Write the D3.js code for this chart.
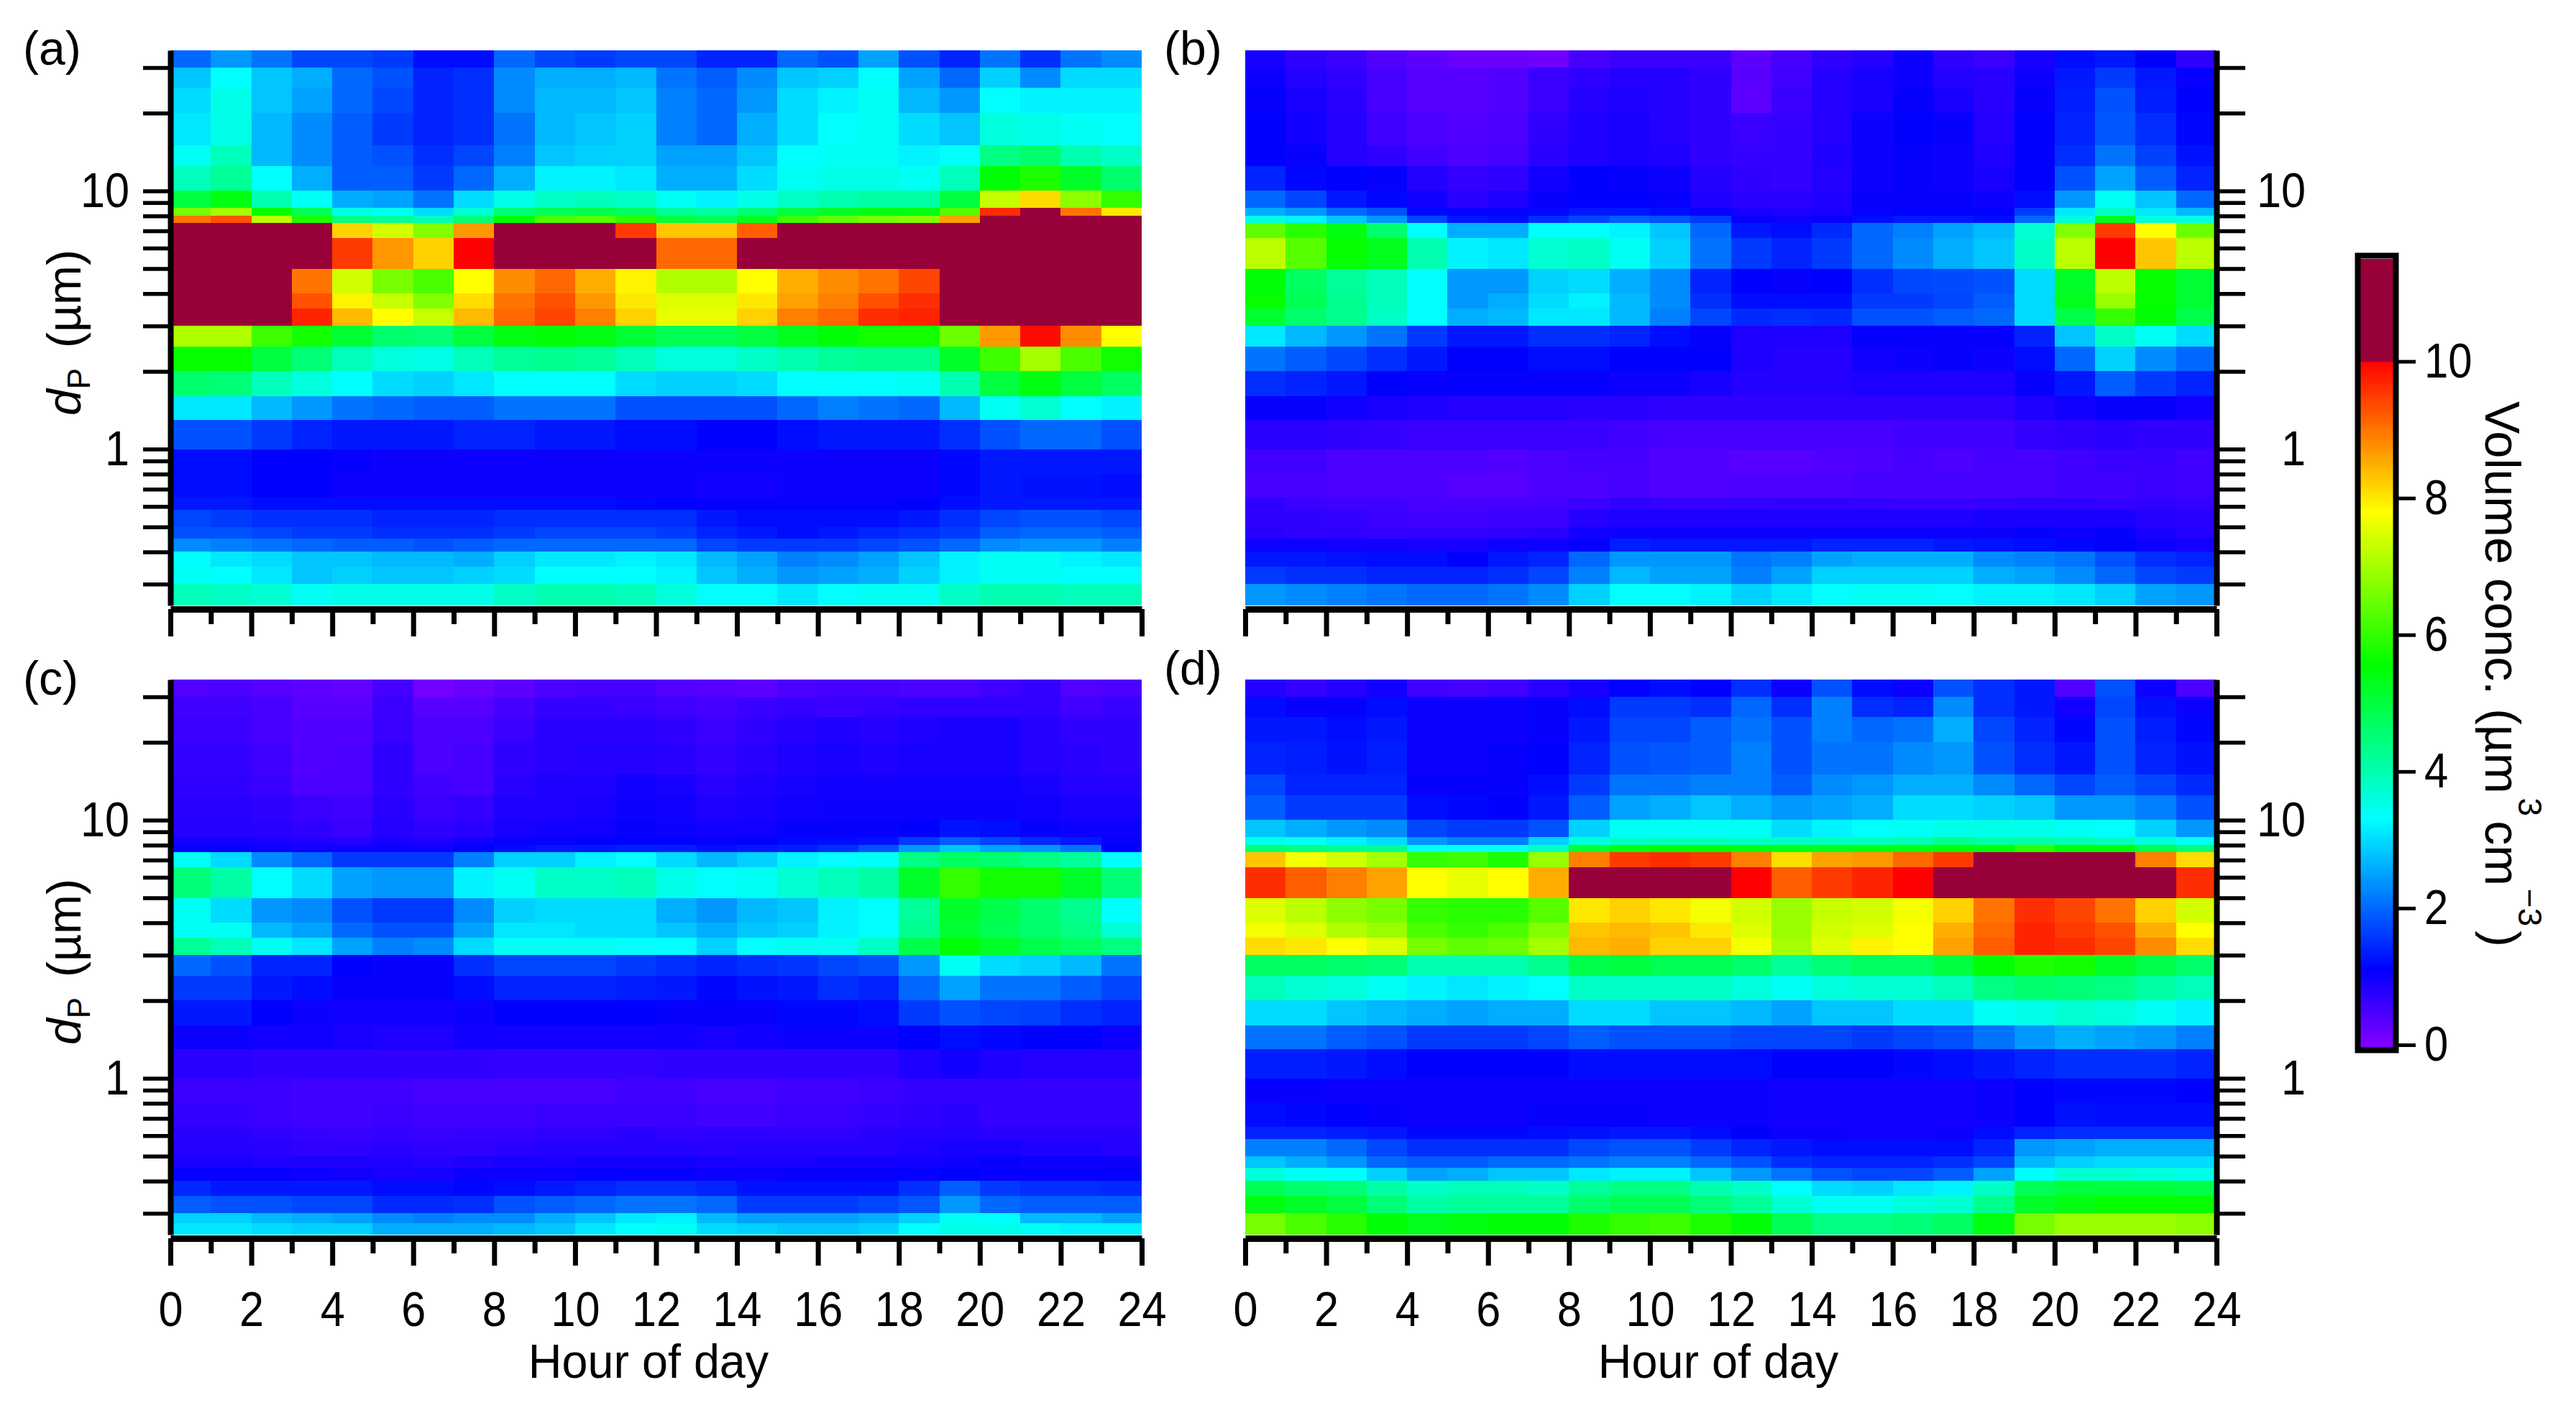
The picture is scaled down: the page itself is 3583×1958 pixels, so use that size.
<!DOCTYPE html>
<html>
<head>
<meta charset="utf-8">
<script src="https://cdn.jsdelivr.net/npm/d3@7"></script>
<style>
    html, body { margin: 0; padding: 0; background: #fff; }
    text { font-family: "Liberation Sans", Arial, sans-serif; fill: #000; }
</style>
</head>
<body>
<script>
// particle size bin edges (um), top to bottom
var sizeEdges = [35, 30, 25, 20, 15, 12.5, 10, 8.6, 8, 7.5, 6.55, 5, 4, 3.5, 3, 2.5, 2, 1.6, 1.3, 1, 0.8, 0.65, 0.58, 0.5, 0.45, 0.4, 0.35, 0.3, 0.248];
// panel c shows one more split near the bottom
var sizeEdgesC = [35, 30, 25, 20, 15, 12.5, 10, 8.6, 8, 7.5, 6.55, 5, 4, 3.5, 3, 2.5, 2, 1.6, 1.3, 1, 0.8, 0.65, 0.58, 0.5, 0.45, 0.4, 0.35, 0.3, 0.275, 0.248];

var hourTicks = [0, 2, 4, 6, 8, 10, 12, 14, 16, 18, 20, 22, 24];
var hourMinorTicks = [1, 3, 5, 7, 9, 11, 13, 15, 17, 19, 21, 23];
var sizeTicks = [0.3, 0.4, 0.5, 0.6, 0.7, 0.8, 0.9, 1, 2, 3, 4, 5, 6, 7, 8, 9, 10, 20, 30];
var sizeLabels = [1, 10];
var barTicks = [0, 2, 4, 6, 8, 10];

// rainbow colour stops
var colorStops = [0, 1.1, 3.3, 5.55, 7.8, 10];
var colorValues = ["#8000ff", "#0000ff", "#00ffff", "#00ff00", "#ffff00", "#ff0000"];
var overColor = "#98003a";

var panelA = [
    [2.0,2.4,2.1,1.7,1.7,1.6,1.2,1.2,2.0,1.7,1.6,1.7,1.7,1.4,1.4,2.0,1.8,2.5,1.8,1.4,2.1,1.5,2.1,2.3],
    [2.8,3.3,2.8,2.6,2.0,1.8,1.4,1.5,2.3,2.6,2.6,2.7,2.1,1.9,2.3,2.8,2.9,3.3,2.5,2.0,2.9,2.3,3.0,3.0],
    [3.0,3.5,2.8,2.5,2.0,1.7,1.4,1.5,2.3,2.7,2.7,2.8,2.2,2.0,2.4,3.0,3.2,3.4,2.7,2.4,3.3,3.2,3.2,3.2],
    [3.1,3.5,2.7,2.3,1.9,1.6,1.4,1.5,2.1,2.7,2.8,2.9,2.2,2.0,2.6,3.0,3.3,3.4,3.0,2.8,3.6,3.5,3.4,3.3],
    [3.4,3.9,2.7,2.3,1.9,1.8,1.5,1.7,2.2,2.8,2.9,2.9,2.5,2.5,2.8,3.3,3.4,3.4,3.2,3.3,4.4,4.6,4.0,3.8],
    [3.9,4.2,3.3,2.6,1.9,1.9,1.6,2.0,2.6,3.2,3.2,3.1,2.6,2.6,3.0,3.4,3.5,3.5,3.4,3.9,5.5,5.8,5.2,4.6],
    [5.0,5.4,4.0,3.4,2.6,2.5,2.1,3.0,3.5,3.8,3.9,3.8,3.4,3.2,3.5,3.8,4.0,4.1,4.1,5.0,7.3,8.1,6.8,6.0],
    [6.6,7.0,5.6,4.8,3.5,3.4,3.0,3.7,4.5,4.8,4.9,4.7,4.2,4.1,4.5,5.0,5.2,5.4,5.4,6.3,9.6,11,9.0,8.0],
    [9.0,9.3,7.2,5.8,4.4,4.2,3.9,4.5,5.5,6.2,6.3,5.9,5.0,4.8,5.3,6.1,6.4,6.6,6.7,8.6,11,11,11,11],
    [11,11,11,11,8.2,7.4,6.7,8.7,11,11,11,9.5,8.3,8.3,9.2,11,11,11,11,11,11,11,11,11],
    [11,11,11,11,9.5,8.7,8.2,10,11,11,11,11,9.1,9.1,11,11,11,11,11,11,11,11,11,11],
    [11,11,11,9.0,7.4,6.6,6.2,7.8,8.8,9.1,8.5,7.9,7.1,7.1,7.8,8.5,8.8,9.0,9.4,11,11,11,11,11],
    [11,11,11,9.3,7.9,7.3,6.7,8.1,9.0,9.3,8.7,8.0,7.5,7.5,8.0,8.6,8.9,9.3,9.6,11,11,11,11,11],
    [11,11,11,9.7,8.4,7.8,7.3,8.4,9.1,9.4,8.9,8.2,7.6,7.6,8.2,8.9,9.1,9.6,9.7,11,11,11,11,11],
    [7.1,7.1,6.1,5.7,5.1,4.6,4.5,5.0,5.4,5.5,5.4,5.1,4.8,4.8,5.0,5.3,5.5,5.7,5.7,6.5,8.7,9.9,8.8,7.8],
    [5.6,5.6,5.0,4.5,3.9,3.6,3.5,3.9,4.2,4.3,4.2,3.9,3.6,3.6,3.8,4.0,4.2,4.3,4.3,5.2,6.1,7.0,6.2,5.7],
    [4.6,4.5,3.9,3.6,3.3,3.0,2.9,3.1,3.3,3.3,3.3,3.0,2.9,2.9,3.0,3.3,3.3,3.3,3.4,4.0,5.0,5.4,5.0,4.7],
    [3.1,3.1,2.7,2.4,2.1,2.0,1.9,1.9,2.1,2.1,2.1,1.8,1.8,1.8,1.8,2.0,2.2,2.1,2.0,2.7,3.4,3.7,3.3,3.2],
    [1.8,1.8,1.6,1.4,1.3,1.3,1.3,1.4,1.4,1.3,1.3,1.2,1.2,1.1,1.1,1.2,1.3,1.3,1.3,1.5,1.8,2.0,2.0,1.8],
    [1.2,1.2,1.1,1.1,1.05,1,1,1,1,1,1,1,1,1,1,1,1,1,1,1.15,1.3,1.3,1.3,1.3],
    [1.2,1.2,1.1,1.1,1,1,1,1,1,1,1,1,1,0.95,0.95,1,1,1,1,1.15,1.3,1.25,1.25,1.2],
    [1.3,1.3,1.2,1.2,1.2,1.2,1.2,1.2,1.2,1.2,1.2,1.15,1.1,1.05,1.05,1.05,1.05,1.05,1.1,1.2,1.3,1.3,1.3,1.3],
    [1.7,1.6,1.5,1.5,1.5,1.4,1.4,1.4,1.5,1.5,1.5,1.5,1.5,1.3,1.2,1.2,1.2,1.2,1.3,1.5,1.7,1.8,1.8,1.7],
    [1.8,1.8,1.7,1.6,1.6,1.5,1.5,1.5,1.6,1.7,1.7,1.7,1.6,1.4,1.3,1.2,1.3,1.4,1.5,1.6,1.9,2.0,2.0,1.9],
    [2.3,2.2,2.1,2.0,1.9,1.9,1.8,1.9,2.0,2.0,2.0,2.0,2.0,1.7,1.6,1.6,1.6,1.7,1.8,2.0,2.3,2.4,2.4,2.2],
    [3.3,3.1,3.0,2.8,2.8,2.7,2.7,2.6,2.9,3.1,3.1,3.2,3.1,2.7,2.5,2.2,2.3,2.5,2.8,3.2,3.4,3.4,3.2,3.1],
    [3.4,3.3,3.1,2.8,2.9,2.8,2.8,2.9,3.0,3.3,3.3,3.3,3.2,2.8,2.6,2.4,2.5,2.6,2.9,3.2,3.4,3.4,3.3,3.3],
    [3.9,3.8,3.7,3.4,3.5,3.5,3.5,3.5,3.8,4.0,4.0,3.9,3.6,3.3,3.3,3.1,3.3,3.4,3.4,3.8,4.0,4.0,3.9,3.9]
];

var panelB = [
    [0.9,0.7,0.6,0.4,0.3,0.2,0.2,0.15,0.5,0.6,0.6,0.6,0.3,0.5,0.7,0.8,1.0,0.7,0.6,0.9,1.2,1.3,1.1,0.7],
    [1.0,0.8,0.7,0.5,0.35,0.35,0.4,0.6,0.7,0.8,0.8,0.7,0.35,0.55,0.8,0.9,1.0,0.8,0.75,1.0,1.3,1.6,1.3,1.05],
    [1.05,0.9,0.75,0.5,0.35,0.35,0.4,0.6,0.8,0.85,0.8,0.7,0.3,0.6,0.8,0.9,1.05,0.9,0.75,1.05,1.35,1.8,1.35,1.1],
    [1.1,0.95,0.8,0.55,0.45,0.4,0.45,0.7,0.85,0.9,0.8,0.7,0.6,0.65,0.8,1.0,1.1,1.05,0.8,1.1,1.4,1.85,1.5,1.15],
    [1.1,1.05,0.8,0.7,0.55,0.45,0.5,0.75,0.85,0.9,0.85,0.7,0.65,0.65,0.85,1.0,1.05,1.0,0.85,1.1,1.5,2.1,1.65,1.25],
    [1.4,1.15,1.1,1.05,0.8,0.65,0.7,0.95,1.1,1.05,1.0,0.8,0.7,0.65,0.8,1.0,1.05,1.0,0.9,1.1,1.8,2.5,1.9,1.4],
    [2.0,1.7,1.3,1.15,0.95,0.75,0.85,1.05,1.1,1.1,1.05,0.85,0.75,0.75,0.85,1.05,1.05,1.05,1.0,1.2,2.4,3.4,2.8,2.0],
    [2.6,2.4,2.0,1.8,1.15,1.05,1.05,1.15,1.3,1.3,1.2,1.05,0.9,0.85,0.9,1.05,1.1,1.1,1.1,1.6,3.1,3.8,3.1,2.7],
    [3.5,3.2,2.8,2.4,1.7,1.3,1.2,1.5,1.7,1.9,1.8,1.6,1.05,1.0,1.05,1.2,1.3,1.3,1.2,2.0,3.6,5.3,3.6,3.5],
    [6.4,5.9,5.4,4.6,3.3,2.6,2.6,3.3,3.3,3.2,2.8,2.0,1.3,1.2,1.45,2.0,2.2,2.5,2.7,3.7,6.7,9.5,7.8,6.5],
    [7.2,6.3,5.6,5.3,4.0,3.2,3.1,3.7,3.8,3.4,2.9,2.1,1.6,1.4,1.6,2.0,2.3,2.6,2.8,3.8,7.2,10,8.3,7.2],
    [5.5,4.7,4.2,3.9,3.3,2.4,2.4,2.9,3.0,2.6,2.3,1.4,1.1,1.05,1.1,1.5,1.7,1.75,1.8,3.0,5.2,7.2,5.6,5.1],
    [5.6,4.8,4.3,3.9,3.3,2.4,2.6,3.0,3.2,2.7,2.3,1.5,1.2,1.2,1.2,1.6,1.6,1.7,1.9,3.0,5.3,6.9,5.6,5.1],
    [5.1,4.6,4.3,3.8,3.3,2.6,2.7,3.1,3.1,2.7,2.2,1.7,1.45,1.5,1.45,1.8,1.8,1.9,2.0,3.0,4.9,6.0,5.5,4.9],
    [3.1,2.7,2.4,2.1,1.6,1.3,1.3,1.5,1.5,1.4,1.2,1.05,0.85,0.85,0.85,1.05,1.05,1.05,1.05,1.4,2.8,3.8,3.4,3.0],
    [2.1,1.9,1.7,1.5,1.3,1.1,1.1,1.2,1.2,1.1,1.1,1.1,0.85,0.8,0.8,0.95,1.0,1.05,1.0,1.2,2.0,2.9,2.3,2.0],
    [1.5,1.4,1.3,1.1,1.05,1.05,1.05,1.05,1.05,1.0,1.0,0.9,0.8,0.8,0.8,0.85,0.85,0.85,0.85,1.05,1.3,1.9,1.6,1.4],
    [1.05,1.05,0.95,0.9,0.85,0.8,0.8,0.8,0.75,0.75,0.7,0.7,0.7,0.7,0.7,0.7,0.7,0.7,0.7,0.85,0.95,1.05,1.05,0.95],
    [0.75,0.75,0.7,0.65,0.6,0.6,0.6,0.6,0.6,0.55,0.5,0.5,0.5,0.5,0.5,0.5,0.55,0.55,0.55,0.65,0.7,0.75,0.7,0.7],
    [0.55,0.55,0.45,0.45,0.45,0.45,0.4,0.45,0.5,0.5,0.4,0.4,0.35,0.35,0.4,0.45,0.5,0.45,0.5,0.5,0.55,0.6,0.6,0.55],
    [0.5,0.5,0.45,0.45,0.45,0.35,0.35,0.45,0.45,0.5,0.4,0.4,0.45,0.45,0.45,0.5,0.5,0.5,0.5,0.5,0.55,0.55,0.6,0.55],
    [0.7,0.6,0.55,0.55,0.5,0.5,0.5,0.5,0.6,0.7,0.65,0.65,0.65,0.7,0.7,0.65,0.6,0.6,0.65,0.7,0.7,0.65,0.7,0.65],
    [0.7,0.7,0.65,0.6,0.55,0.55,0.6,0.6,0.8,0.85,0.85,0.85,0.85,0.85,0.85,0.85,0.85,0.85,0.9,0.9,0.9,0.9,0.8,0.75],
    [0.75,0.7,0.7,0.65,0.65,0.65,0.7,0.75,0.95,1.0,1.0,1.0,1.0,1.0,1.0,1.0,1.0,1.0,1.0,1.05,1.0,1.05,0.9,0.8],
    [1.0,1.0,0.95,0.95,0.9,0.9,1.0,1.0,1.05,1.35,1.3,1.3,1.3,1.3,1.4,1.4,1.4,1.3,1.25,1.2,1.15,1.1,1.0,0.95],
    [1.3,1.3,1.25,1.2,1.2,1.1,1.3,1.4,2.0,2.4,2.4,2.4,2.1,2.2,2.5,2.6,2.6,2.6,2.3,2.2,2.1,1.8,1.5,1.4],
    [1.6,1.5,1.5,1.4,1.4,1.4,1.5,1.7,2.2,2.7,2.5,2.5,2.2,2.5,2.9,2.9,2.9,2.9,2.6,2.5,2.3,2.0,1.7,1.6],
    [2.4,2.3,2.2,2.1,2.0,2.0,2.1,2.3,2.9,3.3,3.3,3.2,2.9,3.1,3.3,3.4,3.4,3.3,3.2,3.2,3.1,2.9,2.5,2.4]
];

var panelC = [
    [0.4,0.45,0.35,0.3,0.25,0.5,0.1,0.2,0.3,0.45,0.5,0.5,0.4,0.35,0.3,0.45,0.5,0.5,0.45,0.45,0.55,0.65,0.4,0.45],
    [0.55,0.55,0.5,0.35,0.35,0.6,0.35,0.35,0.5,0.65,0.65,0.6,0.55,0.5,0.6,0.65,0.6,0.65,0.7,0.7,0.7,0.7,0.55,0.6],
    [0.6,0.6,0.5,0.4,0.4,0.6,0.45,0.45,0.6,0.75,0.75,0.75,0.7,0.6,0.7,0.8,0.85,0.8,0.85,0.9,0.9,0.8,0.7,0.7],
    [0.65,0.65,0.55,0.4,0.45,0.7,0.45,0.5,0.7,0.75,0.8,0.8,0.75,0.65,0.75,0.85,0.9,0.85,0.9,0.9,0.9,0.8,0.75,0.7],
    [0.7,0.7,0.6,0.45,0.45,0.7,0.55,0.5,0.75,0.85,0.85,0.95,0.9,0.75,0.85,0.9,0.95,0.95,0.95,0.95,0.95,0.9,0.8,0.8],
    [0.75,0.75,0.7,0.6,0.55,0.75,0.6,0.65,0.85,0.85,0.9,1.0,0.95,0.85,0.9,0.95,1.0,1.0,1.0,1.0,1.0,0.95,0.9,0.9],
    [0.8,0.8,0.75,0.7,0.6,0.8,0.7,0.75,0.9,0.95,0.95,1.05,1.0,0.95,0.95,1.05,1.05,1.05,1.1,1.25,1.2,1.05,1.0,1.0],
    [0.95,0.95,0.9,0.85,0.8,0.9,0.85,0.95,1.05,1.05,1.1,1.1,1.1,1.05,1.1,1.15,1.2,1.25,1.6,1.9,1.7,1.45,1.3,1.05],
    [1.05,1.05,1.05,1,1,1,1,1.1,1.2,1.3,1.3,1.35,1.35,1.25,1.3,1.35,1.5,1.8,2.4,2.8,2.5,2.4,2.1,1.1],
    [3.4,3.0,2.3,2.0,1.6,1.6,1.6,2.2,2.9,2.9,3.2,3.3,3.0,2.7,2.9,3.2,3.3,3.4,4.4,4.7,4.6,4.4,4.2,3.3],
    [4.5,4.1,3.3,3.0,2.5,2.4,2.4,3.2,3.4,3.8,3.8,3.9,3.5,3.3,3.4,3.7,3.9,4.1,5.2,6.0,5.7,5.7,5.2,4.5],
    [3.4,3.0,2.4,2.3,1.8,1.6,1.6,2.3,2.9,3.0,3.0,3.0,2.6,2.4,2.7,2.8,3.2,3.3,4.2,5.2,4.9,4.6,4.3,3.3],
    [3.4,3.4,2.7,2.5,2.0,1.8,1.8,2.5,3.1,3.1,3.0,3.0,2.8,2.6,2.8,2.9,3.2,3.3,4.3,5.1,4.8,4.6,4.4,3.7],
    [4.2,3.9,3.4,3.1,2.5,2.2,2.3,3.0,3.4,3.4,3.4,3.3,3.3,2.9,3.3,3.4,3.4,3.8,4.9,5.5,5.2,4.9,4.7,4.4],
    [2.0,1.8,1.4,1.4,1.1,1.05,1.05,1.5,1.7,1.7,1.7,1.6,1.5,1.4,1.5,1.55,1.7,1.8,2.4,3.4,3.0,2.9,2.7,2.1],
    [1.6,1.6,1.3,1.2,1.05,1.05,1.05,1.2,1.4,1.4,1.4,1.35,1.3,1.15,1.25,1.3,1.5,1.4,2.0,2.5,2.1,2.1,1.9,1.7],
    [1.3,1.3,1.1,1,0.95,0.95,0.95,1,1.1,1.1,1.1,1.1,1.05,1.05,1.05,1.15,1.15,1.2,1.6,1.8,1.7,1.65,1.5,1.4],
    [1.0,1.0,0.95,0.95,0.9,0.85,0.85,0.95,0.95,0.95,0.95,0.95,0.95,0.9,0.95,1,1,1,1.1,1.2,1.15,1.1,1.1,1.0],
    [0.75,0.75,0.7,0.7,0.7,0.7,0.7,0.7,0.65,0.65,0.65,0.65,0.7,0.7,0.7,0.7,0.7,0.7,0.85,0.95,0.85,0.8,0.8,0.8],
    [0.6,0.6,0.6,0.55,0.55,0.55,0.5,0.5,0.5,0.5,0.5,0.55,0.55,0.5,0.5,0.55,0.55,0.6,0.65,0.65,0.65,0.65,0.65,0.65],
    [0.65,0.65,0.6,0.55,0.55,0.6,0.55,0.55,0.55,0.6,0.6,0.6,0.6,0.55,0.55,0.6,0.6,0.65,0.7,0.75,0.65,0.65,0.65,0.65],
    [0.75,0.75,0.7,0.65,0.6,0.65,0.6,0.65,0.65,0.7,0.7,0.75,0.7,0.7,0.7,0.7,0.7,0.75,0.8,0.8,0.75,0.75,0.75,0.75],
    [0.8,0.8,0.75,0.7,0.7,0.75,0.7,0.7,0.75,0.8,0.8,0.8,0.8,0.75,0.8,0.8,0.8,0.8,0.85,0.9,0.9,0.85,0.85,0.8],
    [0.9,0.9,0.85,0.85,0.85,0.85,0.8,0.85,0.9,0.9,0.95,0.95,0.95,0.9,0.9,0.9,0.95,0.95,0.95,1.0,1.05,1,1,1],
    [1.05,1.05,1.05,1,0.95,0.9,0.9,1,1,1,1.05,1.05,1.05,1,1,1.05,1.05,1.05,1.05,1.1,1.05,1.05,1.05,1.05],
    [1.45,1.3,1.3,1.3,1.3,1.2,1.2,1.15,1.2,1.3,1.4,1.5,1.5,1.4,1.25,1.25,1.25,1.25,1.5,1.9,1.6,1.5,1.5,1.45],
    [1.9,1.8,1.8,1.7,1.7,1.45,1.45,1.5,1.8,1.9,2.0,2.1,2.1,2.0,1.6,1.6,1.6,1.7,1.85,2.4,2.0,1.9,1.9,1.9],
    [2.9,2.9,2.7,2.6,2.5,2.3,2.2,2.3,2.3,2.6,2.8,3.1,3.2,2.7,2.5,2.5,2.5,2.6,2.9,3.4,3.3,2.7,2.7,2.5],
    [3.1,3.1,3.0,2.9,2.9,2.6,2.6,2.6,2.7,2.8,3.1,3.3,3.4,3.0,2.9,2.8,2.8,2.9,3.3,3.5,3.5,3.4,3.2,3.2]
];

var panelD = [
    [0.8,0.65,0.8,0.95,0.55,0.5,0.55,0.75,0.9,1.1,1.2,1.1,1.5,1.0,1.8,1.2,1.0,1.8,1.5,1.3,0.4,1.8,1.0,0.45],
    [1.2,1.05,1.05,1.2,1.0,1.0,1.0,1.05,1.2,1.6,1.6,1.5,2.0,1.5,2.2,1.5,1.4,2.3,1.5,1.3,0.95,1.7,1.25,1.0],
    [1.3,1.3,1.2,1.3,1.0,1.0,1.0,1.05,1.3,1.7,1.7,1.9,2.1,1.8,2.2,2.0,2.1,2.6,1.7,1.4,1.15,1.8,1.35,1.15],
    [1.4,1.35,1.25,1.35,1.0,1.0,1.05,1.1,1.4,1.8,1.85,1.9,2.2,1.8,2.1,2.1,2.3,2.4,1.8,1.5,1.3,1.8,1.4,1.25],
    [1.7,1.4,1.4,1.4,1.05,1.05,1.05,1.2,1.6,2.1,2.1,2.2,2.2,1.9,2.3,2.4,2.6,2.6,2.3,2.0,1.7,1.9,1.7,1.45],
    [1.9,1.6,1.6,1.6,1.2,1.15,1.1,1.3,1.9,2.5,2.6,2.8,2.6,2.4,2.5,2.6,3.0,3.0,2.9,2.8,2.4,2.4,2.2,1.8],
    [2.8,2.6,2.4,2.3,1.7,1.6,1.6,1.8,2.9,3.4,3.4,3.4,3.4,3.0,3.2,3.3,3.4,3.5,3.5,3.5,3.4,3.3,2.9,2.4],
    [3.5,3.4,3.2,3.0,2.4,2.2,2.2,2.9,3.6,3.8,3.9,3.9,3.8,3.8,3.9,3.9,4.0,4.3,4.1,4.1,4.0,3.9,3.6,3.4],
    [4.5,4.4,4.3,4.3,3.4,3.4,3.4,3.8,5.1,5.4,5.5,5.5,5.4,5.3,5.3,5.4,5.4,5.5,5.5,5.9,5.5,5.5,4.9,4.5],
    [8.3,7.7,7.4,7.0,6.0,6.1,5.8,6.9,8.9,9.5,9.6,9.5,8.9,8.1,8.6,8.7,9.1,9.5,11,11,11,11,8.9,8.1],
    [9.6,9.2,8.9,8.6,7.8,7.6,7.8,8.5,11,11,11,11,10,9.2,9.5,9.7,10,11,11,11,11,11,11,9.6],
    [7.5,7.2,6.8,6.6,6.0,5.9,5.9,6.3,8.0,8.2,8.0,7.7,7.4,6.9,7.3,7.4,7.7,8.2,9.0,9.6,9.4,9.0,8.2,7.4],
    [7.7,7.5,7.1,6.9,6.2,6.0,6.2,6.7,8.3,8.4,8.3,8.0,7.5,6.9,7.4,7.5,7.8,8.5,9.1,9.7,9.5,9.3,8.5,7.8],
    [8.1,8.0,7.8,7.5,6.6,6.4,6.5,7.0,8.4,8.5,8.2,8.2,7.7,7.0,7.5,7.9,7.8,8.6,9.2,9.7,9.6,9.4,8.8,8.1],
    [4.7,4.7,4.6,4.5,4.0,4.0,4.0,4.3,4.9,5.0,4.8,4.8,4.6,4.2,4.5,4.7,4.7,5.0,5.5,5.8,5.7,5.2,4.9,4.6],
    [3.9,3.7,3.6,3.4,3.2,3.1,3.2,3.3,3.8,3.8,3.8,3.8,3.6,3.4,3.6,3.7,3.7,3.9,4.4,4.6,4.5,4.4,4.1,3.9],
    [3.0,3.0,2.8,2.7,2.6,2.5,2.6,2.6,3.0,3.0,2.8,2.8,2.7,2.5,2.8,2.8,3.0,3.0,3.4,3.5,3.7,3.6,3.4,3.2],
    [2.1,2.1,1.9,1.8,1.6,1.6,1.6,1.7,1.9,1.8,1.8,1.8,1.7,1.7,1.7,1.6,1.7,1.8,2.1,2.4,2.6,2.5,2.4,2.2],
    [1.35,1.35,1.3,1.2,1.1,1.1,1.1,1.1,1.2,1.2,1.2,1.2,1.2,1.1,1.1,1.1,1.15,1.2,1.3,1.4,1.5,1.5,1.5,1.4],
    [1.05,1.05,1,1,1,1,1,1,1,1,1,1,1,0.95,0.95,0.95,0.95,0.95,1,1.1,1.15,1.15,1.15,1.1],
    [1.2,1.15,1.1,1.05,1,1,1,1.05,1.05,1.05,1.0,1.0,1,0.95,0.95,0.95,0.95,0.95,1,1.1,1.25,1.2,1.2,1.2],
    [1.4,1.4,1.35,1.3,1.15,1.15,1.15,1.2,1.25,1.3,1.3,1.2,1.1,1,1,0.95,0.95,1,1.2,1.4,1.5,1.5,1.5,1.5],
    [2.2,2.2,2.0,1.7,1.5,1.5,1.5,1.5,1.7,1.8,1.8,1.6,1.4,1.3,1.2,1.2,1.2,1.2,1.4,2.4,2.5,2.6,2.6,2.6],
    [2.8,2.6,2.4,2.0,1.9,1.9,2.0,2.0,2.1,2.2,2.2,2.0,1.8,1.5,1.4,1.4,1.4,1.5,1.7,2.7,2.9,3.0,3.0,3.0],
    [3.6,3.4,3.3,2.9,2.5,2.6,2.8,2.8,3.1,3.2,3.2,2.8,2.4,2.1,1.8,1.7,1.7,1.9,2.5,3.3,3.7,3.7,3.6,3.5],
    [4.8,4.6,4.5,4.1,3.8,3.9,3.9,3.8,4.2,4.4,4.4,4.0,3.8,3.3,3.0,2.9,3.1,3.2,3.8,4.8,5.0,5.0,5.0,4.9],
    [5.4,5.2,5.0,4.5,4.1,4.2,4.2,4.2,4.6,4.8,4.8,4.5,4.2,3.7,3.4,3.4,3.6,3.7,4.3,5.2,5.4,5.6,5.6,5.6],
    [6.6,6.2,5.9,5.5,5.3,5.4,5.5,5.5,5.8,6.0,6.1,5.8,5.5,4.8,4.4,4.4,4.5,4.7,5.4,6.6,6.9,6.9,6.9,6.8]
];

var width = 3583,
    height = 1958,
    fontSize = 68,
    squeeze = "scale(0.9,1)";

var color = d3.scaleLinear().domain(colorStops).range(colorValues).clamp(true);

function cellColor(v) {
    return v > 10 ? overColor : color(v);
}

var svg = d3.select("body")
    .append("svg")
    .attr("width", width)
    .attr("height", height)
    .style("display", "block");

function drawPanel(opt) {
    var x = d3.scaleLinear().domain([0, 24]).range([opt.left, opt.left + 1351]);
    var y = d3.scaleLog().domain([0.248, 35]).range([opt.top + 772, opt.top]);
    var g = svg.append("g").attr("class", "panel");
    var axisY = opt.top + 777;
    var edges = opt.edges;

    opt.data.forEach(function (row, i) {
        g.selectAll(null)
            .data(row)
            .enter().append("rect")
            .attr("x", function (d, j) { return x(j); })
            .attr("y", y(edges[i]))
            .attr("width", function (d, j) { return x(j + 1) - x(j); })
            .attr("height", y(edges[i + 1]) - y(edges[i]))
            .attr("fill", cellColor)
            .attr("shape-rendering", "crispEdges");
    });

    // minor hour ticks first, then the major ones with the labels
    var minor = g.append("g")
        .attr("transform", "translate(0," + axisY + ")")
        .call(d3.axisBottom(x).tickValues(hourMinorTicks).tickSize(21).tickSizeOuter(0).tickFormat(""));
    minor.select(".domain").remove();
    minor.selectAll("text").remove();
    minor.selectAll("line").attr("stroke", "#000").attr("stroke-width", 7);

    var major = g.append("g")
        .attr("transform", "translate(0," + axisY + ")")
        .call(d3.axisBottom(x).tickValues(hourTicks).tickSize(38).tickSizeOuter(0).tickPadding(36)
            .tickFormat(opt.showHours ? d3.format("d") : ""));
    major.select(".domain").attr("stroke", "#000").attr("stroke-width", 9);
    major.selectAll("line").attr("stroke", "#000").attr("stroke-width", 7);
    if (!opt.showHours) major.selectAll("text").remove();
    major.selectAll("text")
        .attr("font-size", fontSize)
        .attr("font-family", "Liberation Sans")
        .attr("transform", squeeze);

    // size axis, on the right for panels b and d
    var axisX = opt.right ? x(24) : x(0);
    var sizeAxis = (opt.right ? d3.axisRight(y).tickSize(40) : d3.axisLeft(y).tickSize(38))
        .tickValues(sizeTicks)
        .tickSizeOuter(0)
        .tickFormat(function (d) { return sizeLabels.indexOf(d) >= 0 ? d : ""; });
    var yg = g.append("g")
        .attr("transform", "translate(" + axisX + ",0)")
        .call(sizeAxis);
    yg.select(".domain").attr("stroke", "#000").attr("stroke-width", 8);
    yg.selectAll("line").attr("stroke", "#000").attr("stroke-width", 5.5);
    yg.selectAll("text").filter(function (d) { return sizeLabels.indexOf(d) < 0; }).remove();
    yg.selectAll("text")
        .attr("font-size", fontSize)
        .attr("font-family", "Liberation Sans")
        .attr("text-anchor", "end")
        .attr("x", opt.right ? 124 / 0.9 : -57 / 0.9)
        .attr("transform", squeeze);

    svg.append("text")
        .attr("x", opt.letterX)
        .attr("y", opt.top + opt.letterDy)
        .attr("font-size", 66)
        .text(opt.letter);

    if (opt.showHours) {
        svg.append("text")
            .attr("text-anchor", "middle")
            .attr("transform", "translate(" + opt.hourX + "," + (opt.top + 971) + ") scale(0.98,1)")
            .attr("font-size", 66)
            .text("Hour of day");
    }

    if (!opt.right) {
        var label = svg.append("text")
            .attr("transform", "translate(112," + (opt.top + 508) + ") rotate(-90)")
            .attr("font-size", 66);
        label.append("tspan").attr("font-style", "italic").text("d");
        label.append("tspan").attr("font-size", 44).attr("dy", 13).text("P");
        label.append("tspan").attr("dy", -13).attr("dx", 28).text("(µm)");
    }
}

drawPanel({ data: panelA, edges: sizeEdges, left: 237, top: 70, letter: "(a)", letterX: 32, letterDy: 20, showHours: false, right: false });
drawPanel({ data: panelB, edges: sizeEdges, left: 1732, top: 70, letter: "(b)", letterX: 1619, letterDy: 20, showHours: false, right: true });
drawPanel({ data: panelC, edges: sizeEdgesC, left: 237, top: 945, letter: "(c)", letterX: 32, letterDy: 21, showHours: true, right: false, hourX: 902 });
drawPanel({ data: panelD, edges: sizeEdges, left: 1732, top: 945, letter: "(d)", letterX: 1619, letterDy: 7, showHours: true, right: true, hourX: 2390 });

// colour bar
var barScale = d3.scaleLinear().domain([0, 11.5]).range([1453, 360]);
var barSteps = d3.range(-0.04, 11.5, 0.02);
var bar = svg.append("g").attr("class", "colorbar");

bar.selectAll("rect.step")
    .data(barSteps)
    .enter().append("rect")
    .attr("class", "step")
    .attr("x", 3279)
    .attr("width", 54)
    .attr("y", function (d) { return barScale(d + 0.02); })
    .attr("height", function (d) { return barScale(d) - barScale(d + 0.02) + 0.5; })
    .attr("fill", function (d) { return d >= 10 ? overColor : color(d); })
    .attr("shape-rendering", "crispEdges");

bar.append("rect")
    .attr("x", 3279.5)
    .attr("y", 355.5)
    .attr("width", 53)
    .attr("height", 1105)
    .attr("fill", "none")
    .attr("stroke", "#000")
    .attr("stroke-width", 8);

var barAxis = bar.append("g")
    .attr("transform", "translate(3332,0)")
    .call(d3.axisRight(barScale).tickValues(barTicks).tickSize(28).tickSizeOuter(0));
barAxis.select(".domain").remove();
barAxis.selectAll("line").attr("stroke", "#000").attr("stroke-width", 5);
barAxis.selectAll("text")
    .attr("font-size", fontSize)
    .attr("font-family", "Liberation Sans")
    .attr("x", 40 / 0.88)
    .attr("transform", "scale(0.88,1)");

var barTitle = svg.append("text")
    .attr("transform", "translate(3457,558) rotate(90)")
    .attr("font-size", fontSize);
barTitle.append("tspan").text("Volume conc. (µm");
barTitle.append("tspan").attr("font-size", 46).attr("dy", -46).attr("dx", 6).text("3");
barTitle.append("tspan").attr("dy", 46).attr("dx", 6).text("cm");
barTitle.append("tspan").attr("font-size", 46).attr("dy", -46).attr("dx", 4).text("−3");
barTitle.append("tspan").attr("dy", 46).attr("dx", 6).text(")");
</script>
</body>
</html>
